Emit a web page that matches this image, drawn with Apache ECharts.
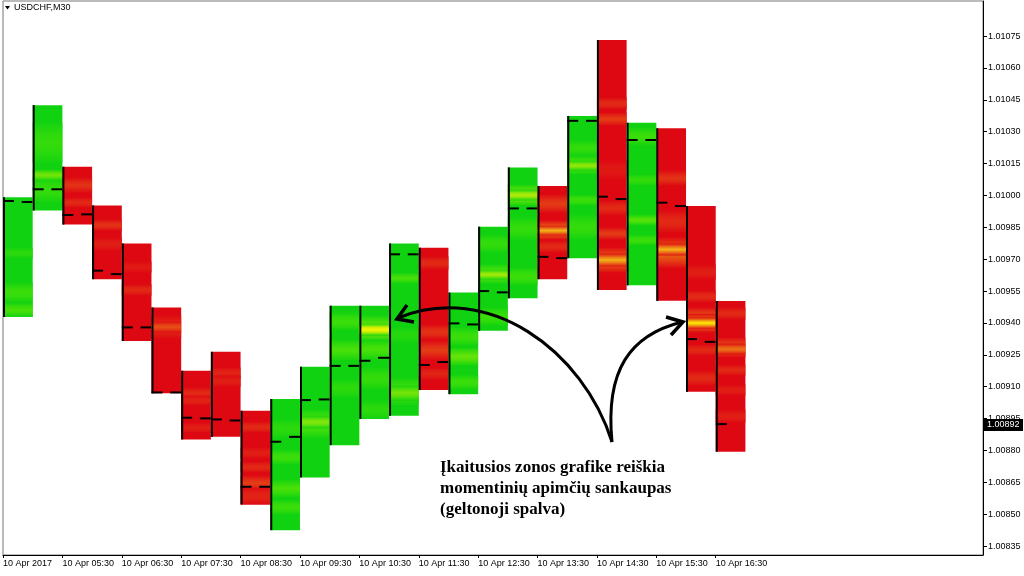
<!DOCTYPE html>
<html><head><meta charset="utf-8">
<script src="https://cdn.jsdelivr.net/npm/echarts@6/dist/echarts.min.js"></script>
<style>html,body{margin:0;padding:0;background:#fff}#c{width:1024px;height:576px}</style>
</head><body><div id="c"></div>
<script>
// ---- data ----
const symbolTitle = 'USDCHF,M30';
const barTimes = ['10 Apr 04:30','10 Apr 05:00','10 Apr 05:30','10 Apr 06:00','10 Apr 06:30','10 Apr 07:00','10 Apr 07:30','10 Apr 08:00','10 Apr 08:30','10 Apr 09:00','10 Apr 09:30','10 Apr 10:00','10 Apr 10:30','10 Apr 11:00','10 Apr 11:30','10 Apr 12:00','10 Apr 12:30','10 Apr 13:00','10 Apr 13:30','10 Apr 14:00','10 Apr 14:30','10 Apr 15:00','10 Apr 15:30','10 Apr 16:00','10 Apr 16:30'];
const tickLabels = ['10 Apr 2017','10 Apr 05:30','10 Apr 06:30','10 Apr 07:30','10 Apr 08:30','10 Apr 09:30','10 Apr 10:30','10 Apr 11:30','10 Apr 12:30','10 Apr 13:30','10 Apr 14:30','10 Apr 15:30','10 Apr 16:30'];
const direction = ['up','up','down','down','down','down','down','down','down','up','up','up','up','up','down','up','up','up','down','up','down','up','down','down','down'];
const highs = [1.009992,1.010425,1.010135,1.009953,1.009774,1.009473,1.009175,1.009264,1.008987,1.009042,1.009194,1.009481,1.009481,1.009774,1.009754,1.009543,1.009853,1.010132,1.010044,1.010374,1.010731,1.010342,1.010316,1.009950,1.009503];
const lows  = [1.009428,1.009929,1.009863,1.009606,1.009315,1.009069,1.008852,1.008864,1.008546,1.008425,1.008673,1.008825,1.008948,1.008963,1.009084,1.009065,1.009363,1.009516,1.009606,1.009705,1.009555,1.009577,1.009504,1.009076,1.008794];
const dashLeft  = [1.009974,1.010029,1.009908,1.009646,1.009379,1.009073,1.008954,1.008946,1.008629,1.008841,1.009037,1.009198,1.009222,1.009723,1.009202,1.009398,1.009550,1.009939,1.009711,1.010351,1.009994,1.010261,1.009966,1.009324,1.008924];
const dashRight = [1.009969,1.010029,1.009911,1.009630,1.009379,1.009073,1.008951,1.008941,1.008629,1.008864,1.009040,1.009198,1.009236,1.009723,1.009216,1.009393,1.009544,1.009939,1.009705,1.010351,1.009983,1.010261,1.009950,1.009311,null];
const heatZones = [
 [[1.009743,1.009715,0.2],[1.009578,1.009508,0.3],[1.009484,1.009437,0.35]],
 [[1.010331,1.010166,0.25],[1.010072,1.009978,0.25],[1.010110,1.010082,0.5]],
 [[1.010072,1.010025,0.35],[1.009978,1.009955,0.3]],
 [[1.009875,1.009846,0.35],[1.009790,1.009752,0.2]],
 [[1.009677,1.009649,0.15],[1.009569,1.009541,0.3]],
 [[1.009423,1.009338,0.3],[1.009395,1.009367,0.5]],
 [[1.009084,1.009056,0.3],[1.009046,1.009023,0.25],[1.008919,1.008896,0.2]],
 [[1.009178,1.009150,0.25],[1.009141,1.009112,0.2]],
 [[1.008924,1.008896,0.3],[1.008802,1.008774,0.2],[1.008736,1.008708,0.3],[1.008670,1.008623,0.4],[1.008613,1.008548,0.25]],
 [[1.008934,1.008872,0.2],[1.008792,1.008745,0.3],[1.008651,1.008590,0.35],[1.008557,1.008510,0.3]],
 [[1.008981,1.008872,0.4],[1.008952,1.008915,0.55]],
 [[1.009437,1.009376,0.3],[1.009310,1.009235,0.35],[1.009122,1.009061,0.2]],
 [[1.009423,1.009319,0.5],[1.009385,1.009352,1.0],[1.009310,1.009239,0.35],[1.009178,1.009098,0.25],[1.009023,1.008957,0.2]],
 [[1.009625,1.009597,0.35],[1.009367,1.009319,0.15],[1.009131,1.009023,0.35],[1.009094,1.009046,0.5]],
 [[1.009701,1.009663,0.3],[1.009381,1.009334,0.35],[1.009305,1.009239,0.4],[1.009178,1.009145,0.25]],
 [[1.009367,1.009305,0.3],[1.009272,1.009211,0.45],[1.009145,1.009098,0.3]],
 [[1.009804,1.009743,0.25],[1.009663,1.009597,0.45],[1.009639,1.009616,0.65],[1.009461,1.009399,0.3]],
 [[1.010039,1.009964,0.55],[1.010016,1.009988,0.7],[1.009884,1.009804,0.25],[1.009649,1.009588,0.3]],
 [[1.009992,1.009931,0.4],[1.009870,1.009804,0.65],[1.009846,1.009823,0.85],[1.009776,1.009743,0.3]],
 [[1.010247,1.010199,0.25],[1.010176,1.010110,0.4],[1.010152,1.010129,0.6],[1.009992,1.009964,0.3],[1.009898,1.009804,0.25]],
 [[1.010449,1.010416,0.3],[1.010378,1.010341,0.4],[1.010152,1.010087,0.15],[1.009964,1.009917,0.3],[1.009837,1.009804,0.4],[1.009743,1.009649,0.6],[1.009715,1.009677,0.85]],
 [[1.010308,1.010247,0.3],[1.010087,1.010058,0.25],[1.009898,1.009870,0.4],[1.009804,1.009776,0.3]],
 [[1.010105,1.010058,0.35],[1.009917,1.009837,0.3],[1.009790,1.009672,0.6],[1.009762,1.009729,0.85]],
 [[1.009663,1.009616,0.2],[1.009541,1.009508,0.3],[1.009461,1.009428,0.4],[1.009432,1.009367,0.65],[1.009414,1.009385,1.0],[1.009287,1.009258,0.3],[1.009164,1.009117,0.3]],
 [[1.009461,1.009428,0.3],[1.009319,1.009249,0.5],[1.009291,1.009263,0.65],[1.009192,1.009164,0.3],[1.009098,1.009070,0.2],[1.008981,1.008943,0.2]]
];
const priceTicks = [1.00835,1.0085,1.00865,1.0088,1.00895,1.0091,1.00925,1.0094,1.00955,1.0097,1.00985,1.01,1.01015,1.0103,1.01045,1.0106,1.01075];
const currentPrice = 1.00892;
const noteLines = ['Įkaitusios zonos grafike reiškia','momentinių apimčių sankaupas','(geltonoji spalva)'];

// ---- colours ----
const greenRamp = [[0,[16,210,16]],[0.3,[60,222,10]],[0.5,[120,228,10]],[0.7,[180,234,8]],[1,[242,246,0]]];
const redRamp   = [[0,[222,8,18]],[0.3,[226,42,22]],[0.5,[230,82,20]],[0.7,[236,130,24]],[0.85,[244,178,20]],[1,[255,240,0]]];
function ramp(stops, t) {
  t = Math.max(0, Math.min(1, t));
  for (let k = 1; k < stops.length; k++) {
    if (t <= stops[k][0]) {
      const a = stops[k-1], b = stops[k], f = (t - a[0]) / (b[0] - a[0]);
      const c = a[1].map((v, j) => Math.round(v + (b[1][j] - v) * f));
      return 'rgb(' + c.join(',') + ')';
    }
  }
  const l = stops[stops.length-1][1];
  return 'rgb(' + l.join(',') + ')';
}

const chart = echarts.init(document.getElementById('c'), null, {renderer: 'canvas'});
const FONT = '"Liberation Sans", Arial, sans-serif';
const xTickValues = tickLabels.map((_, k) => k * 2);

function renderItem(params, api) {
  const i = params.dataIndex;
  const pTop = api.coord([i, highs[i]]);
  const pBot = api.coord([i + 1, lows[i]]);
  const left = pTop[0], right = pBot[0], top = pTop[1], bottom = pBot[1];
  const rampUse = direction[i] === 'up' ? greenRamp : redRamp;
  const w = right - left;
  const children = [{type: 'rect', shape: {x: left, y: top, width: w, height: bottom - top}, style: {fill: ramp(rampUse, 0)}}];
  heatZones[i].forEach(z => {
    const a = api.coord([i, z[0]])[1], b = api.coord([i, z[1]])[1];
    const y0 = Math.max(top, a - 2.5), y1 = Math.min(bottom, b + 2.5);
    children.push({type: 'rect', shape: {x: left, y: y0, width: w, height: y1 - y0},
      style: {fill: new echarts.graphic.LinearGradient(0, 0, 0, 1, [
        {offset: 0, color: ramp(rampUse, z[2] * 0.1)},
        {offset: 0.3, color: ramp(rampUse, z[2] * 0.8)},
        {offset: 0.5, color: ramp(rampUse, z[2])},
        {offset: 0.7, color: ramp(rampUse, z[2] * 0.8)},
        {offset: 1, color: ramp(rampUse, z[2] * 0.1)}])}});
  });
  children.push({type: 'line', shape: {x1: left + 1, y1: top, x2: left + 1, y2: bottom}, style: {stroke: '#000', lineWidth: 2}});
  if (dashLeft[i] != null) {
    const y = api.coord([i, dashLeft[i]])[1];
    children.push({type: 'line', shape: {x1: left, y1: y, x2: left + 11, y2: y}, style: {stroke: '#000', lineWidth: 2}});
  }
  if (dashRight[i] != null) {
    const y = api.coord([i, dashRight[i]])[1];
    children.push({type: 'line', shape: {x1: right - 11, y1: y, x2: right, y2: y}, style: {stroke: '#000', lineWidth: 2}});
  }
  return {type: 'group', children};
}

chart.setOption({
  animation: false,
  backgroundColor: '#fff',
  grid: {left: 2, right: 41, top: 1, bottom: 21, show: true, borderColor: '#777', borderWidth: 1, backgroundColor: 'transparent'},
  xAxis: {
    type: 'value', min: 0, max: 33,
    axisLine: {show: true, onZero: false, lineStyle: {color: '#000', width: 1}},
    axisTick: {show: true, customValues: xTickValues, length: 3, lineStyle: {color: '#000'}},
    axisLabel: {customValues: xTickValues, formatter: v => tickLabels[Math.round(v / 2)], align: 'left', margin: 4,
      color: '#000', fontSize: 9, fontFamily: FONT},
    splitLine: {show: false}
  },
  yAxis: {
    type: 'value', position: 'right', min: 1.008308, max: 1.010915, scale: true,
    axisLine: {show: true, onZero: false, lineStyle: {color: '#000', width: 1}},
    axisTick: {show: true, customValues: priceTicks, length: 4, lineStyle: {color: '#000'}},
    axisLabel: {customValues: priceTicks, formatter: v => v.toFixed(5), margin: 5, color: '#000', fontSize: 9, fontFamily: FONT},
    splitLine: {show: false}
  },
  series: [{
    type: 'custom',
    name: symbolTitle,
    renderItem,
    encode: {x: 0, y: [1, 2]},
    data: highs.map((h, i) => [i, h, lows[i], barTimes[i]]),
    clip: true
  }]
});

// annotations; current price tag positioned through the axis scale
const yTag = chart.convertToPixel({yAxisIndex: 0}, currentPrice);
const xTag = chart.convertToPixel({xAxisIndex: 0}, 33);
chart.setOption({graphic: {elements: [
  {id: 'tri', type: 'polygon', z: 100, shape: {points: [[5, 6], [10, 6], [7.5, 9.5]]}, style: {fill: '#000'}},
  {id: 'title', type: 'text', z: 100, x: 14, y: 3, style: {text: symbolTitle, fontSize: 9, fontFamily: FONT, fill: '#000'}},
  {id: 'note', type: 'text', z: 100, x: 440, y: 457, style: {text: noteLines.join('\n'), font: 'bold 17px "Liberation Serif", "Times New Roman", serif', lineHeight: 21, fill: '#000'}},
  {id: 'arc1', type: 'bezierCurve', z: 100, shape: {x1: 612, y1: 442, cpx1: 583, cpy1: 350, cpx2: 488, cpy2: 281, x2: 398, y2: 318}, style: {stroke: '#000', lineWidth: 3, fill: null}},
  {id: 'head1', type: 'polyline', z: 100, shape: {points: [[414, 322], [397, 319], [407, 305]]}, style: {stroke: '#000', lineWidth: 3.5, fill: null}},
  {id: 'arc2', type: 'bezierCurve', z: 100, shape: {x1: 612, y1: 442, cpx1: 605, cpy1: 370, cpx2: 630, cpy2: 335, x2: 682, y2: 322}, style: {stroke: '#000', lineWidth: 3, fill: null}},
  {id: 'head2', type: 'polyline', z: 100, shape: {points: [[666, 317], [683, 322], [671, 335]]}, style: {stroke: '#000', lineWidth: 3.5, fill: null}},
  {id: 'tagBox', type: 'rect', z: 110, shape: {x: xTag + 1, y: yTag - 6, width: 39, height: 12}, style: {fill: '#000'}},
  {id: 'tagText', type: 'text', z: 111, x: xTag + 4, y: yTag, style: {text: currentPrice.toFixed(5), fontSize: 9, fontFamily: FONT, fill: '#fff', verticalAlign: 'middle'}}
]}});
</script>
</body></html>
